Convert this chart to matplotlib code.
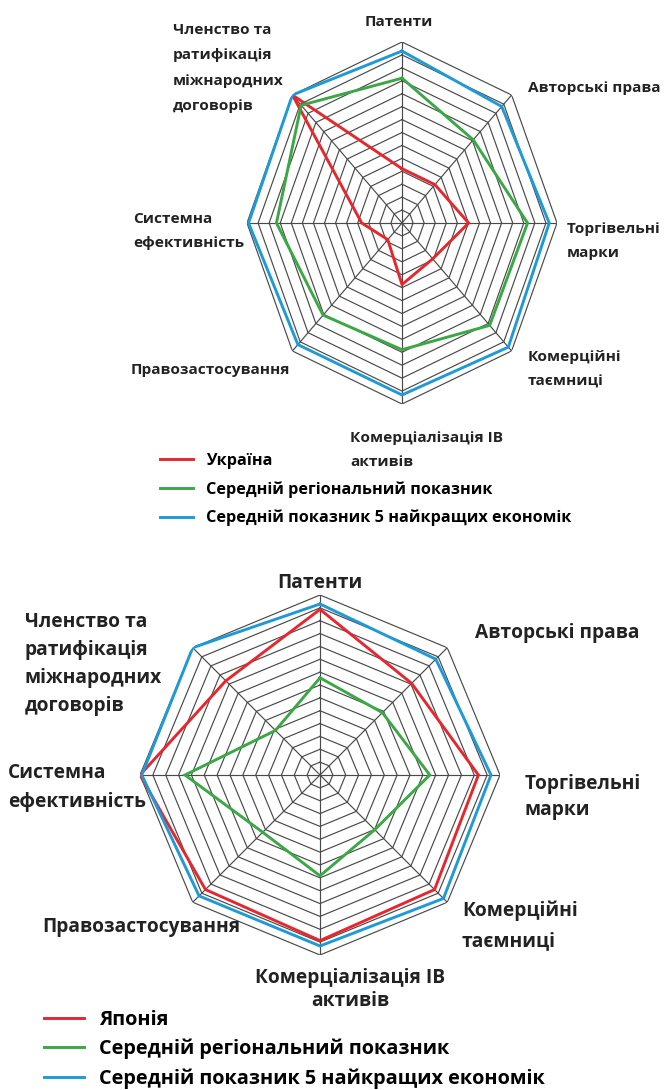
import numpy as np
import matplotlib.pyplot as plt

plt.rcParams['font.family'] = ['Open Sans', 'DejaVu Sans']

# axes in the order they go clockwise from the top
categories = ['Патенти', 'Авторські права', 'Торгівельні марки', 'Комерційні таємниці',
              'Комерціалізація ІВ активів', 'Правозастосування', 'Системна ефективність',
              'Членство та ратифікація міжнародних договорів']

# scores as % of the maximum
ukraine = [30, 30, 43, 28, 34, 13, 26, 100]
region_ua = [80, 65, 81, 80, 70, 72, 81, 92]
japan = [92, 72, 88, 90, 92, 90, 100, 74]
region_jp = [54, 49, 61, 43, 56, 45, 75, 35]
top5 = [95, 91, 95, 97, 95, 95, 99, 100]

legend_ua = ['Україна', 'Середній регіональний показник', 'Середній показник 5 найкращих економік']
legend_jp = ['Японія', 'Середній регіональний показник', 'Середній показник 5 найкращих економік']

RED = '#e8262d'
GREEN = '#3aa845'
BLUE = '#1f9ad6'
GRID = '#4a4a4a'
TXT = '#222222'
N_RINGS = 14

W, H = 667, 1090
fig = plt.figure(figsize=(W / 100, H / 100), dpi=100)


def px(x, y):
    return x / W, 1 - y / H


def radar(rect, series):
    ax = fig.add_axes(rect, projection='polar')
    ax.set_theta_zero_location('N')
    ax.set_theta_direction(-1)
    ax.set_aspect('auto')
    n = len(categories)
    ang = np.linspace(0, 2 * np.pi, n, endpoint=False)
    closed = np.append(ang, ang[0])
    for r in np.linspace(0, 100, N_RINGS + 1)[1:]:
        ax.plot(closed, [r] * (n + 1), color=GRID, lw=0.85, zorder=1)
    for a in ang:
        ax.plot([a, a], [0, 100], color=GRID, lw=0.85, zorder=1)
    lines = []
    for vals, col in series:
        v = np.append(vals, vals[0])
        ln, = ax.plot(closed, v, color=col, lw=2.1, zorder=3, solid_joinstyle='miter')
        lines.append(ln)
    ax.set_ylim(0, 100)
    ax.set_xticks([])
    ax.set_yticks([])
    ax.grid(False)
    ax.spines['polar'].set_visible(False)
    ax.patch.set_alpha(0)
    return ax, lines


def label(x, y, s, size, ha='left', ls=1.5):
    fig.text(*px(x, y), s, fontsize=size, fontweight='bold', color=TXT,
             ha=ha, va='center', linespacing=ls)


# top chart: Ukraine
l, b = px(247, 404)
ax1, lines1 = radar([l, b, 310 / W, 362 / H],
                    [(ukraine, RED), (region_ua, GREEN), (top5, BLUE)])
fs1 = 11.1
label(399, 22, 'Патенти', fs1, ha='center')
label(528, 88, 'Авторські права', fs1)
label(567, 241, 'Торгівельні\nмарки', fs1, ls=1.9)
label(528, 369, 'Комерційні\nтаємниці', fs1, ls=2.0)
label(350, 450, 'Комерціалізація ІВ\nактивів', fs1, ls=1.9)
label(290, 370, 'Правозастосування', fs1, ha='right')
label(133, 231, 'Системна\nефективність', fs1, ls=1.9)
label(173, 68, 'Членство та\nратифікація\nміжнародних\nдоговорів', fs1, ls=2.05)

fig.legend(lines1, legend_ua, loc='upper left', bbox_to_anchor=px(160, 453),
           frameon=False, handlelength=2.05, handletextpad=0.8,
           labelspacing=0.75, borderpad=0, borderaxespad=0,
           prop={'weight': 'bold', 'size': 11.7})

# bottom chart: Japan
l, b = px(140, 955)
ax2, lines2 = radar([l, b, 360 / W, 360 / H],
                    [(japan, RED), (region_jp, GREEN), (top5, BLUE)])
fs2 = 13.8
label(320, 583, 'Патенти', fs2, ha='center')
label(475, 633, 'Авторські права', fs2)
label(525, 797, 'Торгівельні\nмарки', fs2, ls=1.4)
label(462, 926, 'Комерційні\nтаємниці', fs2, ls=1.7)
label(350, 990, 'Комерціалізація ІВ\nактивів', fs2, ha='center', ls=1.2)
label(42, 927, 'Правозастосування', fs2)
label(8, 787, 'Системна\nефективність', fs2, ls=1.6)
label(25, 664, 'Членство та\nратифікація\nміжнародних\nдоговорів', fs2, ls=1.55)

fig.legend(lines2, legend_jp, loc='upper left', bbox_to_anchor=px(44, 1010),
           frameon=False, handlelength=2.0, handletextpad=0.75,
           labelspacing=0.45, borderpad=0, borderaxespad=0,
           prop={'weight': 'bold', 'size': 14.3})

fig.savefig('out.png', dpi=100)
